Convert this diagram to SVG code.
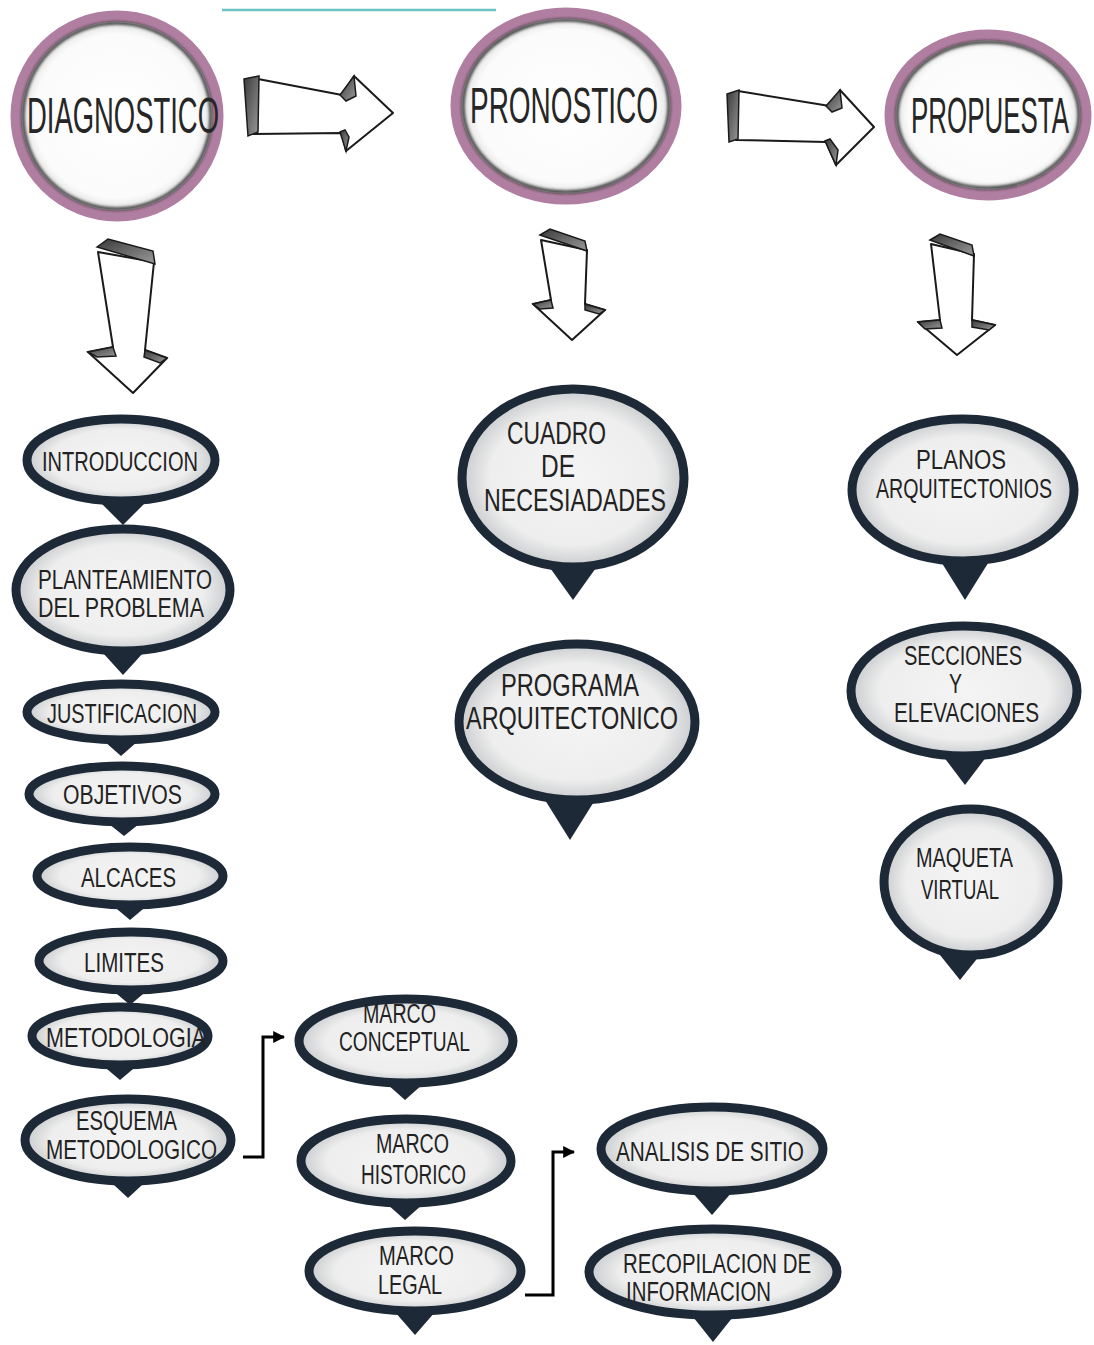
<svg xmlns="http://www.w3.org/2000/svg" width="1094" height="1345" viewBox="0 0 1094 1345">
  <defs>
    <radialGradient id="bubFill" cx="50%" cy="50%" r="50%">
      <stop offset="0%" stop-color="#f4f4f4"/>
      <stop offset="75%" stop-color="#eeeeee"/>
      <stop offset="100%" stop-color="#c9cbcd"/>
    </radialGradient>
    <radialGradient id="ringFill" cx="50%" cy="50%" r="50%">
      <stop offset="0%" stop-color="#ffffff"/>
      <stop offset="82%" stop-color="#fbfbfb"/>
      <stop offset="100%" stop-color="#d6d6d6"/>
    </radialGradient>
    <linearGradient id="faceShade" x1="0" y1="0" x2="1" y2="1">
      <stop offset="0%" stop-color="#3a3a3a"/>
      <stop offset="100%" stop-color="#9a9a9a"/>
    </linearGradient>
    <filter id="soft" x="-10%" y="-10%" width="120%" height="120%">
      <feGaussianBlur stdDeviation="1.6"/>
    </filter>
    <marker id="tip" viewBox="0 0 10 10" refX="9" refY="5" markerWidth="4" markerHeight="4" orient="auto" markerUnits="strokeWidth">
      <path d="M0,0 L10,5 L0,10 z" fill="#000"/>
    </marker>
  </defs>
  <style>
    .ring { fill: url(#ringFill); stroke: #b07ea1; stroke-width: 11; }
    .ringIn { fill: none; stroke: #2a2a2a; stroke-width: 3; }
    .bub { fill: url(#bubFill); stroke: #1d2937; stroke-width: 9; }
    .tail { fill: #1d2937; }
    .t { font-family: "Liberation Sans Narrow", "Liberation Sans", "DejaVu Sans", sans-serif; fill: #222222; }
    .big { font-size: 50px; fill: #262626; }
    .mid { font-size: 27px; }
    .lg { font-size: 32px; }
    .sk { fill: #ffffff; stroke: #1a1a1a; stroke-width: 2; stroke-linejoin: round; }
    .face { fill: url(#faceShade); stroke: #1a1a1a; stroke-width: 1.5; }
    .conn { fill: none; stroke: #000; stroke-width: 3; }
  </style>

  <rect width="1094" height="1345" fill="#ffffff"/>

  <!-- thin teal rule along the top -->
  <line x1="222" y1="10" x2="496" y2="10" stroke="#6cc4c4" stroke-width="2.5"/>

  <!-- hand-drawn block arrows -->
  <g id="sketch-arrows">
    <g id="arrow-right-1">
      <polygon class="sk" points="258,79 342,95 354,76 393,113 346,151 342,133 253,134"/>
      <polygon class="face" points="244,79 259,76 258,132 248,136"/>
      <polygon class="face" points="340,95 354,76 356,96 346,101"/>
      <polygon class="face" points="340,132 346,151 349,137 345,130"/>
    </g>
    <g id="arrow-right-2">
      <polygon class="sk" points="738,91 836,107 840,90 874,127 836,165 826,142 736,140"/>
      <polygon class="face" points="727,94 739,90 738,139 729,142"/>
      <polygon class="face" points="826,106 840,90 842,108 832,112"/>
      <polygon class="face" points="825,141 836,165 838,150 830,139"/>
    </g>
    <g id="arrow-down-1">
      <polygon class="sk" points="98,252 113,347 88,352 133,393 167,358 145,350 154,262"/>
      <polygon class="face" points="97,247 108,239 153,251 155,264"/>
      <polygon class="face" points="88,352 113,347 116,356 97,357"/>
      <polygon class="face" points="145,350 167,358 160,363 144,357"/>
    </g>
    <g id="arrow-down-2">
      <polygon class="sk" points="541,240 551,300 533,304 572,340 605,310 585,304 587,250"/>
      <polygon class="face" points="540,235 550,229 585,241 587,251"/>
      <polygon class="face" points="533,304 551,300 553,308 540,309"/>
      <polygon class="face" points="585,304 605,310 599,314 585,310"/>
    </g>
    <g id="arrow-down-3">
      <polygon class="sk" points="931,244 940,320 918,322 957,355 995,325 972,320 974,254"/>
      <polygon class="face" points="930,240 940,234 972,245 974,256"/>
      <polygon class="face" points="918,322 940,320 942,328 925,329"/>
      <polygon class="face" points="972,320 995,325 989,330 972,327"/>
    </g>
  </g>

  <!-- stage circles -->
  <g id="diagnostico">
    <ellipse class="ring" cx="117" cy="116" rx="101" ry="100"/>
    <ellipse class="ringIn" cx="117" cy="116" rx="94" ry="93" filter="url(#soft)"/>
    <text class="t big" x="27" y="133" textLength="192" lengthAdjust="spacingAndGlyphs">DIAGNOSTICO</text>
  </g>
  <g id="pronostico">
    <ellipse class="ring" cx="566" cy="106" rx="110" ry="93"/>
    <ellipse class="ringIn" cx="566" cy="106" rx="103" ry="86" filter="url(#soft)"/>
    <text class="t big" x="470" y="123" textLength="188" lengthAdjust="spacingAndGlyphs">PRONOSTICO</text>
  </g>
  <g id="propuesta">
    <ellipse class="ring" cx="988" cy="115" rx="98" ry="80"/>
    <ellipse class="ringIn" cx="988" cy="115" rx="91" ry="73" filter="url(#soft)"/>
    <text class="t big" x="911" y="133" textLength="158" lengthAdjust="spacingAndGlyphs">PROPUESTA</text>
  </g>

  <!-- connectors -->
  <g id="connectors">
    <path class="conn" d="M243,1157 H263 V1037 H284" marker-end="url(#tip)"/>
    <path class="conn" d="M525,1295 H553 V1152 H574" marker-end="url(#tip)"/>
  </g>

  <!-- diagnostico column -->
  <g id="introduccion">
    <path class="tail" d="M93,495 L153,495 L123,525 Z"/>
    <ellipse class="bub" cx="121" cy="460" rx="94" ry="41"/>
    <text class="t mid" x="42" y="471" textLength="156" lengthAdjust="spacingAndGlyphs">INTRODUCCION</text>
  </g>
  <g id="planteamiento">
    <path class="tail" d="M93,642 L153,642 L123,675 Z"/>
    <ellipse class="bub" cx="123" cy="590" rx="107" ry="61"/>
    <text class="t mid" x="38" y="589" textLength="174" lengthAdjust="spacingAndGlyphs">PLANTEAMIENTO</text>
    <text class="t mid" x="38" y="617" textLength="166" lengthAdjust="spacingAndGlyphs">DEL PROBLEMA</text>
  </g>
  <g id="justificacion">
    <path class="tail" d="M96,734 L146,734 L121,756 Z"/>
    <ellipse class="bub" cx="121" cy="712" rx="94" ry="28"/>
    <text class="t mid" x="47" y="723" textLength="150" lengthAdjust="spacingAndGlyphs">JUSTIFICACION</text>
  </g>
  <g id="objetivos">
    <path class="tail" d="M99,816 L149,816 L124,836 Z"/>
    <ellipse class="bub" cx="122" cy="794" rx="93" ry="28"/>
    <text class="t mid" x="63" y="804" textLength="119" lengthAdjust="spacingAndGlyphs">OBJETIVOS</text>
  </g>
  <g id="alcaces">
    <path class="tail" d="M105,899 L155,899 L130,920 Z"/>
    <ellipse class="bub" cx="130" cy="876" rx="93" ry="29"/>
    <text class="t mid" x="81" y="887" textLength="95" lengthAdjust="spacingAndGlyphs">ALCACES</text>
  </g>
  <g id="limites">
    <path class="tail" d="M105,984 L155,984 L130,1005 Z"/>
    <ellipse class="bub" cx="131" cy="961" rx="92" ry="29"/>
    <text class="t mid" x="84" y="972" textLength="80" lengthAdjust="spacingAndGlyphs">LIMITES</text>
  </g>
  <g id="metodologia">
    <path class="tail" d="M95,1059 L145,1059 L120,1080 Z"/>
    <ellipse class="bub" cx="120" cy="1036" rx="88" ry="29"/>
    <text class="t mid" x="46" y="1047" textLength="160" lengthAdjust="spacingAndGlyphs">METODOLOGIA</text>
  </g>
  <g id="esquema-metodologico">
    <path class="tail" d="M100,1172 L156,1172 L128,1198 Z"/>
    <ellipse class="bub" cx="128" cy="1140" rx="103" ry="41"/>
    <text class="t mid" x="76" y="1130" textLength="101" lengthAdjust="spacingAndGlyphs">ESQUEMA</text>
    <text class="t mid" x="46" y="1159" textLength="171" lengthAdjust="spacingAndGlyphs">METODOLOGICO</text>
  </g>

  <!-- pronostico column -->
  <g id="cuadro-necesidades">
    <path class="tail" d="M543,558 L603,558 L573,600 Z"/>
    <ellipse class="bub" cx="573" cy="478" rx="111" ry="89"/>
    <text class="t lg" x="507" y="444" textLength="99" lengthAdjust="spacingAndGlyphs">CUADRO</text>
    <text class="t lg" x="541" y="477" textLength="34" lengthAdjust="spacingAndGlyphs">DE</text>
    <text class="t lg" x="484" y="511" textLength="182" lengthAdjust="spacingAndGlyphs">NECESIADADES</text>
  </g>
  <g id="programa-arquitectonico">
    <path class="tail" d="M540,792 L600,792 L570,840 Z"/>
    <ellipse class="bub" cx="577" cy="722" rx="118" ry="78"/>
    <text class="t lg" x="501" y="696" textLength="138" lengthAdjust="spacingAndGlyphs">PROGRAMA</text>
    <text class="t lg" x="466" y="729" textLength="212" lengthAdjust="spacingAndGlyphs">ARQUITECTONICO</text>
  </g>

  <!-- propuesta column -->
  <g id="planos-arquitectonicos">
    <path class="tail" d="M935,552 L995,552 L965,600 Z"/>
    <ellipse class="bub" cx="963" cy="490" rx="111" ry="71"/>
    <text class="t mid" x="916" y="469" textLength="90" lengthAdjust="spacingAndGlyphs">PLANOS</text>
    <text class="t mid" x="876" y="498" textLength="176" lengthAdjust="spacingAndGlyphs">ARQUITECTONIOS</text>
  </g>
  <g id="secciones-elevaciones">
    <path class="tail" d="M937,748 L993,748 L965,785 Z"/>
    <ellipse class="bub" cx="964" cy="691" rx="113" ry="65"/>
    <text class="t mid" x="904" y="665" textLength="118" lengthAdjust="spacingAndGlyphs">SECCIONES</text>
    <text class="t mid" x="949" y="693" textLength="13" lengthAdjust="spacingAndGlyphs">Y</text>
    <text class="t mid" x="894" y="722" textLength="145" lengthAdjust="spacingAndGlyphs">ELEVACIONES</text>
  </g>
  <g id="maqueta-virtual">
    <path class="tail" d="M932,945 L988,945 L960,980 Z"/>
    <ellipse class="bub" cx="971" cy="882" rx="87" ry="73"/>
    <text class="t mid" x="916" y="867" textLength="97" lengthAdjust="spacingAndGlyphs">MAQUETA</text>
    <text class="t mid" x="921" y="899" textLength="78" lengthAdjust="spacingAndGlyphs">VIRTUAL</text>
  </g>

  <!-- marco branch -->
  <g id="marco-conceptual">
    <path class="tail" d="M378,1076 L432,1076 L405,1100 Z"/>
    <ellipse class="bub" cx="406" cy="1041" rx="107" ry="42"/>
    <text class="t mid" x="363" y="1023" textLength="73" lengthAdjust="spacingAndGlyphs">MARCO</text>
    <text class="t mid" x="339" y="1051" textLength="131" lengthAdjust="spacingAndGlyphs">CONCEPTUAL</text>
  </g>
  <g id="marco-historico">
    <path class="tail" d="M378,1196 L432,1196 L405,1220 Z"/>
    <ellipse class="bub" cx="406" cy="1161" rx="105" ry="42"/>
    <text class="t mid" x="376" y="1153" textLength="73" lengthAdjust="spacingAndGlyphs">MARCO</text>
    <text class="t mid" x="361" y="1184" textLength="105" lengthAdjust="spacingAndGlyphs">HISTORICO</text>
  </g>
  <g id="marco-legal">
    <path class="tail" d="M388,1304 L442,1304 L415,1335 Z"/>
    <ellipse class="bub" cx="415" cy="1271" rx="106" ry="40"/>
    <text class="t mid" x="379" y="1265" textLength="75" lengthAdjust="spacingAndGlyphs">MARCO</text>
    <text class="t mid" x="378" y="1294" textLength="64" lengthAdjust="spacingAndGlyphs">LEGAL</text>
  </g>

  <!-- site analysis branch -->
  <g id="analisis-sitio">
    <path class="tail" d="M685,1184 L739,1184 L712,1215 Z"/>
    <ellipse class="bub" cx="712" cy="1149" rx="111" ry="42"/>
    <text class="t mid" x="616" y="1161" textLength="188" lengthAdjust="spacingAndGlyphs">ANALISIS DE SITIO</text>
  </g>
  <g id="recopilacion-informacion">
    <path class="tail" d="M686,1308 L740,1308 L713,1342 Z"/>
    <ellipse class="bub" cx="713" cy="1272" rx="124" ry="43"/>
    <text class="t mid" x="623" y="1273" textLength="188" lengthAdjust="spacingAndGlyphs">RECOPILACION DE</text>
    <text class="t mid" x="626" y="1301" textLength="145" lengthAdjust="spacingAndGlyphs">INFORMACION</text>
  </g>
</svg>
